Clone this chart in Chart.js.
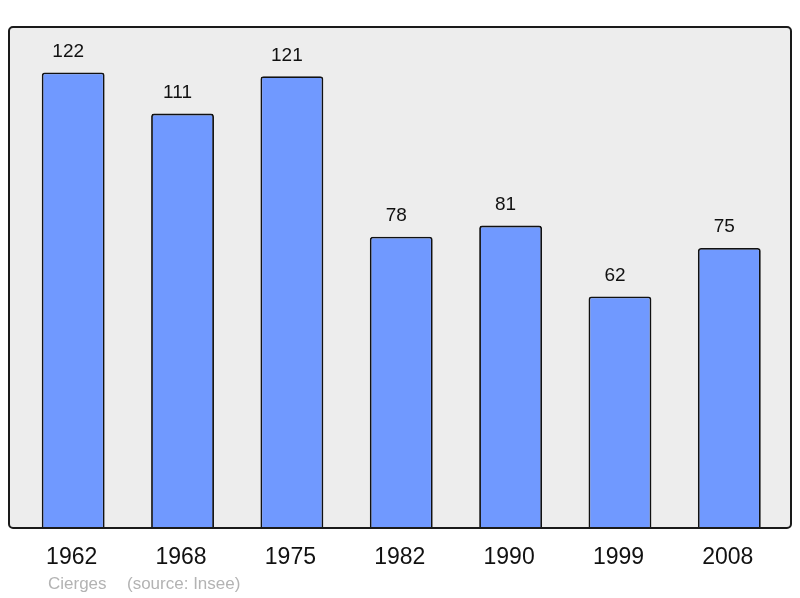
<!DOCTYPE html>
<html>
<head>
<meta charset="utf-8">
<script src="https://cdn.jsdelivr.net/npm/chart.js@4"></script>
<style>
html,body{margin:0;padding:0;background:#fff;}
#wrap{width:800px;height:598px;position:relative;}
</style>
</head>
<body>
<div id="wrap"><canvas id="c" width="800" height="598"></canvas></div>
<script>
const categories = ["1962","1968","1975","1982","1990","1999","2008"];
const population = [122,111,121,78,81,62,75];
const footerPlace = "Cierges";
const footerSource = "(source: Insee)";

const framePlugin = {
  id: 'frame',
  beforeDraw(chart) {
    const ctx = chart.ctx;
    const a = chart.chartArea;
    const x0 = 9, x1 = 791, y0 = a.top, y1 = a.bottom;
    ctx.save();
    ctx.beginPath();
    if (ctx.roundRect) ctx.roundRect(x0, y0, x1 - x0, y1 - y0, 4); else ctx.rect(x0, y0, x1 - x0, y1 - y0);
    ctx.fillStyle = '#ededed';
    ctx.fill();
    ctx.restore();
  },
  afterDatasetsDraw(chart) {
    const ctx = chart.ctx;
    const a = chart.chartArea;
    const x0 = 9, x1 = 791, y0 = a.top, y1 = a.bottom;
    ctx.save();
    ctx.beginPath();
    if (ctx.roundRect) ctx.roundRect(x0, y0, x1 - x0, y1 - y0, 4); else ctx.rect(x0, y0, x1 - x0, y1 - y0);
    ctx.lineWidth = 2;
    ctx.strokeStyle = '#1a1a1a';
    ctx.stroke();
    // value labels
    const meta = chart.getDatasetMeta(0);
    ctx.fillStyle = '#111';
    ctx.font = '19px "Liberation Sans", Arial, sans-serif';
    ctx.textAlign = 'center';
    ctx.textBaseline = 'middle';
    meta.data.forEach((bar, i) => {
      ctx.fillText(String(chart.data.datasets[0].data[i]), bar.x - 5, bar.y - 21);
    });
    // footer
    ctx.fillStyle = '#b3b3b3';
    ctx.font = '17px "Liberation Sans", Arial, sans-serif';
    ctx.textAlign = 'left';
    ctx.textBaseline = 'alphabetic';
    ctx.fillText(footerPlace, 48, 589);
    ctx.fillText(footerSource, 127, 589);
    ctx.restore();
  }
};

new Chart(document.getElementById('c'), {
  type: 'bar',
  data: {
    labels: categories,
    datasets: [{
      data: population,
      backgroundColor: '#7099ff',
      borderColor: '#111',
      borderWidth: 1.8,
      borderRadius: 3,
      borderSkipped: 'bottom',
      barPercentage: 0.575,
      categoryPercentage: 1.0
    }]
  },
  options: {
    responsive: false,
    animation: false,
    layout: { padding: { left: 18.5, right: 16, top: 27, bottom: 0 } },
    plugins: { legend: { display: false }, tooltip: { enabled: false }, title: { display: false } },
    scales: {
      x: {
        grid: { display: false, drawTicks: false },
        border: { display: false },
        ticks: { color: '#111', font: { size: 23, family: '"Liberation Sans", Arial, sans-serif' }, padding: 16, maxRotation: 0, labelOffset: -1.5 },
        afterFit(scale) { scale.height = 70; }
      },
      y: {
        display: false,
        min: 0,
        max: 134.2
      }
    }
  },
  plugins: [framePlugin]
});
</script>
</body>
</html>
